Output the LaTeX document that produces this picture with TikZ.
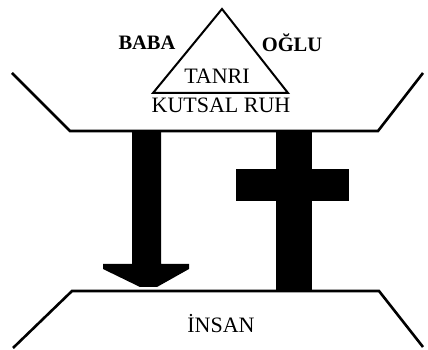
\documentclass[tikz,border=0pt]{standalone}
\usepackage{fontspec}
\setmainfont{Liberation Serif}
\begin{document}
\begin{tikzpicture}[x=1pt,y=1pt,
  lbl/.style={inner sep=0pt,font=\fontsize{22}{24}\selectfont},
  blbl/.style={inner sep=0pt,font=\fontsize{20.5}{22}\selectfont\bfseries},
  rail/.style={line width=2.6pt,line join=miter},
  tri/.style={line width=2pt,line join=miter},
  solid/.style={fill=black,draw=none}]
\useasboundingbox (0,0) rectangle (428,350);
% coordinates are (x, 350 - y_pixel)
% top rail
\draw[rail] (12,277) -- (70,219) -- (378,219) -- (423,277);
% bottom rail
\draw[rail] (13,2) -- (72,59) -- (379,59) -- (423,3);
% triangle
\draw[tri] (222,341) -- (153,257) -- (288,257) -- cycle;
% arrow
\fill[solid] (132,219) -- (161,219) -- (161,86) -- (189,86) -- (189,81)
  -- (157,63) -- (140,63) -- (103,81) -- (103,86) -- (132,86) -- cycle;
% cross
\fill[solid] (276,219) rectangle (312,59);
\fill[solid] (236,181) rectangle (349,149);
% labels
\node[blbl] (baba) at (147,307) {BABA};
\node[blbl] (oglu) at (292,307) {OĞLU};
\node[lbl] (tanri) at (217,274) {TANRI};
\node[lbl] (ruh) at (221,245) {KUTSAL RUH};
\node[lbl] (insan) at (221,26) {İNSAN};
\end{tikzpicture}
\end{document}
